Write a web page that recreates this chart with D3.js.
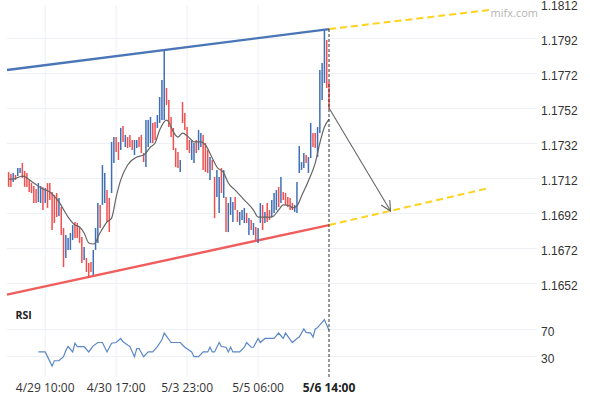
<!DOCTYPE html>
<html>
<head>
<meta charset="utf-8">
<script src="https://cdnjs.cloudflare.com/ajax/libs/d3/7.8.5/d3.min.js"></script>
<style>
  body { margin: 0; background: #fff; }
  svg { display: block; font-family: "Open Sans", "Noto Sans", sans-serif; }
</style>
</head>
<body>
<div id="chart"></div>
<script>
// hourly bars, index 0..140 (last bar = 5/6 14:00)
var barHigh = [1.17154,1.17143,1.17149,1.17137,1.17177,1.17177,1.17206,1.1716,1.17149,1.17109,
  1.17091,1.17074,1.17057,1.17091,1.17074,1.17069,1.17063,1.17091,1.17091,1.1704,
  1.17023,1.17034,1.17006,1.16954,1.16834,1.16794,1.16777,1.16806,1.16851,1.16869,
  1.16863,1.1684,1.16783,1.16726,1.16663,1.16634,1.1664,1.16709,1.16834,1.16977,
  1.16966,1.17194,1.17149,1.17051,1.17006,1.17326,1.17354,1.17354,1.17326,1.17406,
  1.17417,1.17366,1.17354,1.17366,1.17337,1.17337,1.17337,1.17354,1.17366,1.17263,
  1.17451,1.17451,1.17469,1.17434,1.1744,1.1748,1.17583,1.1768,1.17846,1.17634,
  1.17566,1.17469,1.17406,1.17291,1.17269,1.17223,1.17554,1.17491,1.17411,1.17337,
  1.17337,1.1732,1.17337,1.17394,1.17377,1.17366,1.1732,1.1728,1.1724,1.17223,
  1.17126,1.17166,1.17126,1.17177,1.17166,1.17011,1.16977,1.17011,1.16983,1.17011,
  1.16937,1.16926,1.16937,1.16949,1.1692,1.16891,1.1688,1.16863,1.1684,1.16834,
  1.16977,1.16966,1.16926,1.16977,1.16937,1.16994,1.17034,1.17051,1.17069,1.17126,
  1.1704,1.17034,1.17011,1.17006,1.16977,1.16966,1.17097,1.17303,1.17211,1.17263,
  1.17251,1.1724,1.17434,1.17377,1.17377,1.17411,1.17737,1.17777,1.17966,1.17909,
  1.17669];
var barLow = [1.17069,1.17069,1.17097,1.17109,1.17131,1.17149,1.1712,1.17069,1.17069,1.1704,
  1.17034,1.16977,1.16977,1.16983,1.16977,1.16937,1.16977,1.16949,1.16994,1.16823,
  1.16863,1.16897,1.16903,1.16794,1.16611,1.16663,1.16709,1.16709,1.16766,1.16777,
  1.16777,1.16749,1.16634,1.16651,1.16583,1.16549,1.16583,1.16566,1.16709,1.16749,
  1.16834,1.16966,1.16977,1.16869,1.16811,1.17034,1.17206,1.17269,1.17223,1.1728,
  1.17326,1.17297,1.17291,1.17297,1.1728,1.17251,1.17291,1.17297,1.17263,1.17211,
  1.17183,1.17297,1.1732,1.1732,1.17337,1.17406,1.17434,1.17451,1.17451,1.17537,
  1.17411,1.17354,1.1728,1.17183,1.17177,1.17154,1.17434,1.17394,1.1728,1.17263,
  1.17223,1.17206,1.17263,1.1728,1.17297,1.17166,1.17154,1.17149,1.17109,1.17166,
  1.16891,1.17011,1.1692,1.17034,1.17006,1.16811,1.16811,1.16909,1.16869,1.16937,
  1.16869,1.16851,1.1688,1.16863,1.16863,1.16794,1.16823,1.16794,1.16766,1.16749,
  1.16863,1.16823,1.16863,1.16869,1.1688,1.16897,1.1692,1.16937,1.16954,1.16977,
  1.16994,1.16966,1.16954,1.16937,1.16937,1.16926,1.1692,1.17149,1.17166,1.17177,
  1.17206,1.17149,1.17234,1.17297,1.17291,1.1724,1.17377,1.17566,1.17663,1.17634,
  1.17514];
// 1 = rising bar (blue), 0 = falling bar (red)
var barUp = [0,0,1,0,1,1,0,0,0,0, 0,0,0,1,1,0,1,0,0,0, 0,0,1,0,0,1,1,1,1,0,
  0,0,0,1,0,0,0,1,1,1, 0,1,1,0,0,1,1,0,0,1, 0,1,0,0,0,1,1,0,0,0,
  1,1,1,0,0,1,1,1,1,0, 0,0,0,0,0,1,0,0,0,0, 1,1,0,1,1,0,0,0,1,0,
  0,1,1,0,1,0,1,1,1,0, 0,1,1,1,0,1,0,1,0,1, 1,0,1,0,0,1,1,1,0,1,
  0,0,0,0,0,1,1,1,1,1, 0,1,1,0,0,1,1,1,1,0, 0];

// moving average read at selected bars
var maIdx = [0,2,6,11,15,18,22,26,29,31,33,35,37,38,39,41,43,45,47,49,52,56,59,60,62,64,66,69,70,72,
  74,76,79,81,84,86,89,91,94,96,99,103,107,109,112,115,118,120,123,124,126,128,131,134,136,138,140];
var maVal = [1.17114,1.17114,1.17131,1.17091,1.17057,1.1704,1.16983,1.16897,1.16851,1.1684,
  1.16806,1.16749,1.16743,1.16749,1.16783,1.16829,1.16869,1.16891,1.17011,1.17109,
  1.17194,1.1724,1.17251,1.17263,1.17297,1.1732,1.17394,1.17451,1.1744,1.17383,
  1.17354,1.17377,1.17349,1.17326,1.17326,1.17309,1.17234,1.17183,1.17149,1.17091,
  1.17051,1.16994,1.16937,1.16897,1.16897,1.16897,1.16937,1.16966,1.1696,1.16949,
  1.1696,1.17017,1.17103,1.17206,1.1732,1.17411,1.17457];

// RSI turning points
var rsiIdx = [13,16,19,20,22,24,25,26,28,29,30,33,35,37,39,41,43,45,47,49,50,53,55,56,57,59,61,63,65,67,
  68,71,75,77,80,81,83,85,87,88,89,90,92,93,95,96,97,98,101,103,104,106,107,109,110,112,116,118,120,121,
  124,126,127,129,130,132,133,134,135,138,140];
var rsiVal = [36,36,15,23,23,29,38,44,36,49,44,44,36,45,50,50,36,49,50,56,51,44,29,41,41,29,36,36,44,54,
  64,50,50,43,36,29,29,36,36,43,36,36,50,44,43,36,43,36,36,43,50,43,43,56,50,56,56,64,56,64,
  50,56,58,70,65,64,58,70,72,84,68];

var priceTicks = [1.1652,1.1672,1.1692,1.1712,1.1732,1.1752,1.1772,1.1792,1.1812];
var rsiTicks = [30,70];
var timeIdx = [16,47,78,109];
var timeLabels = ["4/29 10:00","4/30 17:00","5/3 23:00","5/5 06:00"];
var lastIdx = 140, lastLabel = "5/6 14:00";

// channel drawn on the chart: [bar index, price]
var upperLine = [[-0.7,1.17737],[140,1.17971]];
var upperExt = [[140,1.17971],[210.1,1.1808]];
var lowerLine = [[-0.7,1.16454],[140,1.16851]];
var lowerExt = [[140,1.16851],[210.1,1.17063]];
var arrowPts = [[140,1.1752],[166.9,1.16931]];

var width = 590, height = 400;
var svg = d3.select("#chart").append("svg")
    .attr("width", width).attr("height", height);

var x = d3.scaleLinear().domain([0, 140]).range([8.6, 329]);
var y = d3.scaleLinear().domain([1.1652, 1.1812]).range([283, 3]);
var yr = d3.scaleLinear().domain([30, 70]).range([356, 329]);

var gridColor = "#edf1f6";

// vertical grid
svg.append("g").selectAll("line")
    .data(timeIdx).enter().append("line")
    .attr("x1", d => x(d)).attr("x2", d => x(d))
    .attr("y1", 5).attr("y2", 377)
    .attr("stroke", gridColor);

// price axis + grid
var pAxis = svg.append("g")
    .attr("transform", "translate(537,0)")
    .call(d3.axisRight(y).tickValues(priceTicks).tickSize(-530).tickPadding(4)
        .tickFormat(d3.format(".4f")));
pAxis.select(".domain").remove();
pAxis.selectAll("line").attr("stroke", gridColor)
    .attr("stroke-opacity", d => d > 1.18 ? 0 : 1);
pAxis.selectAll("text").attr("fill", "#333").attr("font-size", 12).attr("dy", "0.55em");

// rsi axis + grid
var rAxis = svg.append("g")
    .attr("transform", "translate(537,0)")
    .call(d3.axisRight(yr).tickValues(rsiTicks).tickSize(-530).tickPadding(4));
rAxis.select(".domain").remove();
rAxis.selectAll("line").attr("stroke", gridColor);
rAxis.selectAll("text").attr("fill", "#333").attr("font-size", 12).attr("dy", "0.55em");

// time labels
svg.append("g").selectAll("text")
    .data(timeIdx).enter().append("text")
    .attr("x", d => x(d)).attr("y", 392)
    .attr("text-anchor", "middle")
    .attr("font-size", 12).attr("fill", "#333")
    .text((d, i) => timeLabels[i]);
svg.append("text")
    .attr("x", x(lastIdx)).attr("y", 392)
    .attr("text-anchor", "middle")
    .attr("font-size", 12).attr("font-weight", "bold").attr("fill", "#222")
    .text(lastLabel);

var seg = d3.line().x(d => x(d[0])).y(d => y(d[1]));

// channel lines
svg.append("path").attr("d", seg(upperLine))
    .attr("fill", "none").attr("stroke", "#4a76b8").attr("stroke-width", 2.4);
svg.append("path").attr("d", seg(lowerLine))
    .attr("fill", "none").attr("stroke", "#f05d5d").attr("stroke-width", 2.4);
[upperExt, lowerExt].forEach(function(p) {
    svg.append("path").attr("d", seg(p))
        .attr("fill", "none").attr("stroke", "#ffd21c")
        .attr("stroke-width", 2).attr("stroke-dasharray", "7,4");
});

// bars
svg.append("g").selectAll("line")
    .data(barHigh).enter().append("line")
    .attr("x1", (d, i) => x(i)).attr("x2", (d, i) => x(i))
    .attr("y1", d => y(d))
    .attr("y2", (d, i) => y(barLow[i]))
    .attr("stroke", (d, i) => barUp[i] ? "#3f6fb6" : "#f04f4f")
    .attr("stroke-width", 1.5);

// moving average
var maPts = maIdx.map((d, i) => [d, maVal[i]]);
svg.append("path")
    .attr("d", d3.line().x(d => x(d[0])).y(d => y(d[1])).curve(d3.curveMonotoneX)(maPts))
    .attr("fill", "none").attr("stroke", "#666").attr("stroke-width", 1.2);

// rsi
var rsiPts = rsiIdx.map((d, i) => [d, rsiVal[i]]);
svg.append("path")
    .attr("d", d3.line().x(d => x(d[0])).y(d => yr(d[1]))(rsiPts))
    .attr("fill", "none").attr("stroke", "#5b87c7").attr("stroke-width", 1.2);

svg.append("text")
    .attr("x", 15.5).attr("y", 318.5)
    .attr("font-size", 10.5).attr("font-weight", "bold").attr("fill", "#222")
    .text("RSI");

// crosshair on last bar
svg.append("line")
    .attr("x1", x(lastIdx)).attr("x2", x(lastIdx))
    .attr("y1", 29).attr("y2", 378)
    .attr("stroke", "#333").attr("stroke-width", 1)
    .attr("stroke-dasharray", "3,2");

// projection arrow
svg.append("defs").append("marker")
    .attr("id", "head").attr("viewBox", "0 0 12 12")
    .attr("refX", 11).attr("refY", 6)
    .attr("markerWidth", 12).attr("markerHeight", 12)
    .attr("markerUnits", "userSpaceOnUse")
    .attr("orient", "auto")
    .append("path").attr("d", "M1,1 L11,6 L1,11")
    .attr("fill", "none").attr("stroke", "#666").attr("stroke-width", 1.1);
svg.append("path").attr("d", seg(arrowPts))
    .attr("fill", "none").attr("stroke", "#666").attr("stroke-width", 1.1)
    .attr("marker-end", "url(#head)");

// watermark
svg.append("text")
    .attr("x", 538).attr("y", 17)
    .attr("text-anchor", "end")
    .attr("font-size", 11).attr("fill", "#b4b4b4")
    .text("mifx.com");
</script>
</body>
</html>
